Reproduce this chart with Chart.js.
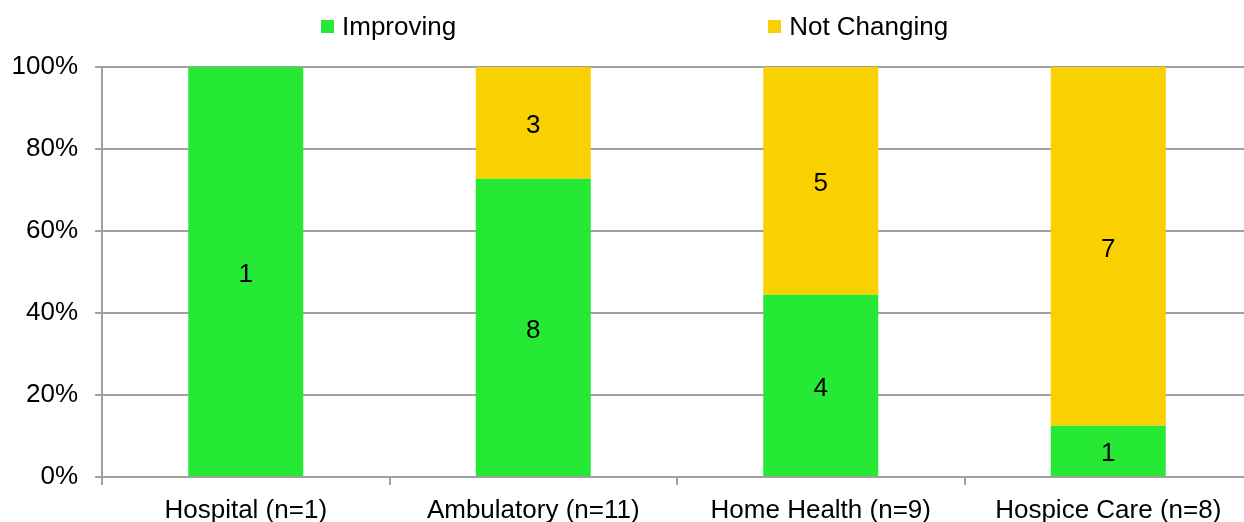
<!DOCTYPE html>
<html>
<head>
<meta charset="utf-8">
<script src="https://cdn.jsdelivr.net/npm/chart.js@4/dist/chart.umd.min.js"></script>
<style>
    html, body { margin: 0; padding: 0; background: #fff; overflow: hidden; }
    #wrap { position: relative; width: 1256px; height: 522px; }
    #legend {
        position: absolute; top: 11px; left: 321px;
        display: flex; gap: 312px;
        font-family: "Liberation Sans", Arial, sans-serif; font-size: 26px; color: #000;
    }
    .item { display: flex; align-items: center; }
    .swatch { width: 13px; height: 13px; margin-right: 8px; }
</style>
</head>
<body>
<div id="wrap">
    <canvas id="statusChart" width="1256" height="522"></canvas>
    <div id="legend"></div>
</div>
<script>
// Number of measures per setting
const settings = ['Hospital (n=1)', 'Ambulatory (n=11)', 'Home Health (n=9)', 'Hospice Care (n=8)'];
const improving = [1, 8, 4, 1];
const notChanging = [0, 3, 5, 7];
const yTicks = [0, 20, 40, 60, 80, 100];

const FONT = '"Liberation Sans", Arial, sans-serif';
const GREEN = '#26E936';
const YELLOW = '#F9D100';
const GRID = '#a0a0a0';

// Share of each setting, in percent
const totals = settings.map((s, i) => improving[i] + notChanging[i]);
const toPct = arr => arr.map((v, i) => v / totals[i] * 100);

// Write the count in the middle of each segment
const countLabels = {
    id: 'countLabels',
    afterDatasetsDraw(chart) {
        const ctx = chart.ctx;
        ctx.save();
        ctx.font = '26px ' + FONT;
        ctx.fillStyle = '#000';
        ctx.textAlign = 'center';
        ctx.textBaseline = 'middle';
        chart.data.datasets.forEach((ds, i) => {
            chart.getDatasetMeta(i).data.forEach((bar, j) => {
                const n = ds.counts[j];
                if (!n) return;
                const p = bar.getProps(['x', 'y', 'base'], true);
                ctx.fillText(String(n), p.x, (p.y + p.base) / 2 + 3);
            });
        });
        ctx.restore();
    }
};

const ctx = document.getElementById('statusChart').getContext('2d');
const chart = new Chart(ctx, {
    type: 'bar',
    data: {
        labels: settings,
        datasets: [{
            label: 'Improving',
            data: toPct(improving),
            counts: improving,
            backgroundColor: GREEN
        }, {
            label: 'Not Changing',
            data: toPct(notChanging),
            counts: notChanging,
            backgroundColor: YELLOW
        }]
    },
    options: {
        responsive: false,
        animation: false,
        layout: { padding: { top: 67, right: 4, left: 0, bottom: 0 } },
        datasets: { bar: { barPercentage: 0.4, categoryPercentage: 1, borderWidth: 0 } },
        plugins: {
            legend: { display: false },
            tooltip: { enabled: false }
        },
        scales: {
            x: {
                stacked: true,
                afterFit: scale => { scale.height = 45; },
                grid: { drawOnChartArea: false, drawTicks: true, tickLength: 8, color: GRID, lineWidth: 2 },
                border: { color: GRID, width: 2 },
                ticks: { color: '#000', font: { family: FONT, size: 26 }, padding: 10, maxRotation: 0 }
            },
            y: {
                stacked: true,
                min: 0,
                max: 100,
                afterBuildTicks: scale => { scale.ticks = yTicks.map(v => ({ value: v })); },
                afterFit: scale => { scale.width = 102; },
                grid: { color: GRID, lineWidth: 2, tickLength: 7 },
                border: { color: GRID, width: 2 },
                ticks: {
                    color: '#000',
                    font: { family: FONT, size: 26 },
                    padding: 17,
                    callback: v => v + '%'
                }
            }
        }
    },
    plugins: [countLabels]
});

// Legend built from the datasets
const legend = document.getElementById('legend');
chart.data.datasets.forEach(ds => {
    const item = document.createElement('div');
    item.className = 'item';
    const sw = document.createElement('span');
    sw.className = 'swatch';
    sw.style.background = ds.backgroundColor;
    item.appendChild(sw);
    item.appendChild(document.createTextNode(ds.label));
    legend.appendChild(item);
});
</script>
</body>
</html>
